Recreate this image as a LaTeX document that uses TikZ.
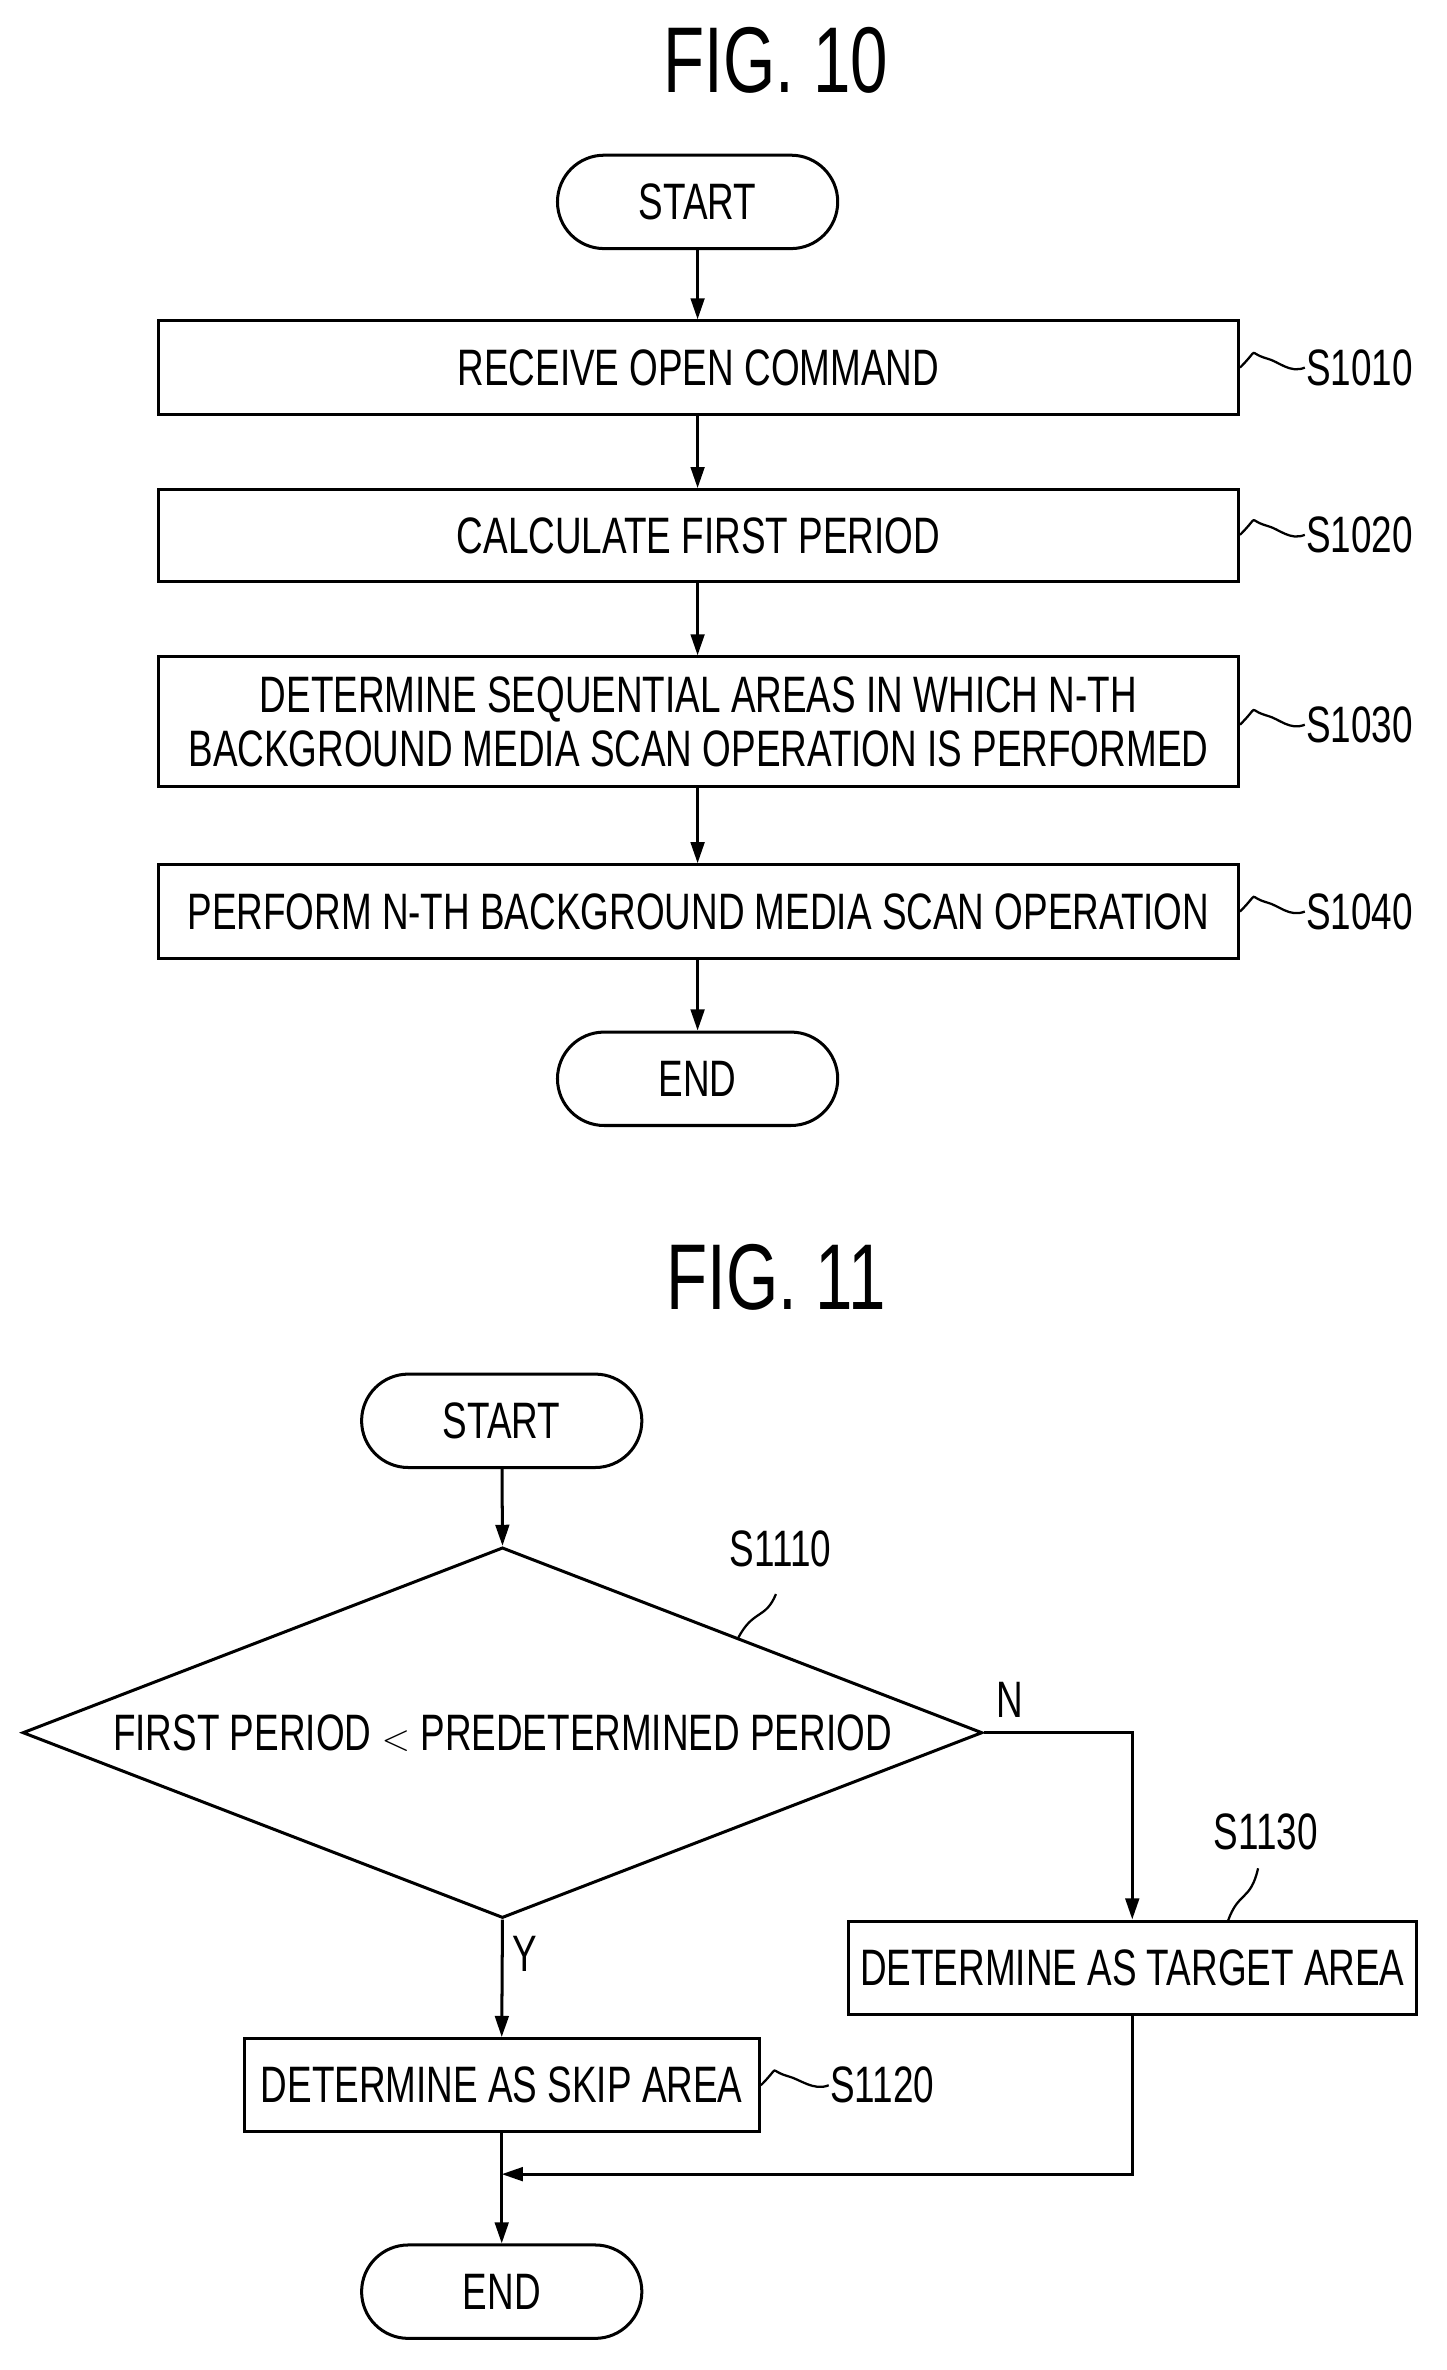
\documentclass[tikz,border=0pt]{standalone}
\usepackage{fontspec}
\setmainfont[FakeStretch=0.72]{Liberation Sans}
\usetikzlibrary{shapes.geometric,shapes.misc,arrows.meta}
\tikzset{every picture/.style={line width=2pt}}
\tikzset{
  box/.style={draw,rectangle,inner sep=0pt,font=\fontsize{34}{36}\selectfont,align=center},
  term/.style={draw,rounded rectangle,minimum width=186pt,minimum height=62pt,inner sep=0pt,font=\fontsize{34}{36}\selectfont},
  lbl/.style={font=\fontsize{34}{36}\selectfont,inner sep=0pt},
  flow/.style={-{Triangle[length=14pt,width=9pt]}}
}
\begin{document}
\begin{tikzpicture}[x=1pt,y=1pt,yscale=-1]
\useasboundingbox (0,0) rectangle (960,1573);

% FIG. 10
\node[lbl,font=\fontsize{62}{64}\selectfont] (fig10) at (515,40) {FIG. 10};
\node[term] (start1) at (463,134) {START};
\node[box,minimum width=717pt,minimum height=62pt] (s1010) at (463.5,244) {RECEIVE OPEN COMMAND};
\node[box,minimum width=717pt,minimum height=61pt] (s1020) at (463.5,355.5) {CALCULATE FIRST PERIOD};
\node[box,minimum width=717pt,minimum height=86pt] (s1030) at (463.5,479) {DETERMINE SEQUENTIAL AREAS IN WHICH N-TH\\BACKGROUND MEDIA SCAN OPERATION IS PERFORMED};
\node[box,minimum width=717pt,minimum height=62pt] (s1040) at (463.5,605) {PERFORM N-TH BACKGROUND MEDIA SCAN OPERATION};
\node[term] (end1) at (463,716) {END};

\draw[flow] (start1) -- (start1 |- s1010.north);
\draw[flow] (start1 |- s1010.south) -- (start1 |- s1020.north);
\draw[flow] (start1 |- s1020.south) -- (start1 |- s1030.north);
\draw[flow] (start1 |- s1030.south) -- (start1 |- s1040.north);
\draw[flow] (start1 |- s1040.south) -- (end1);

% step labels
\node[lbl,anchor=west] (l1010) at (866,244) {S1010};
\node[lbl,anchor=west] (l1020) at (866,355) {S1020};
\node[lbl,anchor=west] (l1030) at (866,481) {S1030};
\node[lbl,anchor=west] (l1040) at (866,605) {S1040};
\foreach \n/\yy in {1010/244,1020/355,1030/481,1040/605}{
  \draw[line width=1.5pt] (s\n.east |- 0,\yy) .. controls ++(14,-14) and ++(-14,-4) .. ++(18,-6) .. controls ++(8,2) and ++(-10,4) .. (l\n.west);
}

% FIG. 11
\node[lbl,font=\fontsize{62}{64}\selectfont] (fig11) at (515,848) {FIG. 11};
\node[term] (start2) at (333,943) {START};
\node[draw,diamond,aspect=2.59,minimum width=637pt,minimum height=246pt,inner sep=0pt,font=\fontsize{34}{36}\selectfont] (s1110) at (333.5,1150) {FIRST PERIOD $<$ PREDETERMINED PERIOD};
\node[box,minimum width=377pt,minimum height=62pt] (s1130) at (751.5,1306) {DETERMINE AS TARGET AREA};
\node[box,minimum width=342pt,minimum height=62pt] (s1120) at (333,1384) {DETERMINE AS SKIP AREA};
\node[term] (end2) at (333,1521) {END};
\coordinate (merge) at (333,1443);

\draw[flow] (start2) -- (s1110.north);
\draw[flow] (s1110.east) -| (s1130.north);
\draw[flow] (s1110.south) -- (s1120.north);
\draw (s1120.south) -- (merge);
\draw[flow] (merge) -- (end2);
\draw[flow] (s1130.south) |- (merge);

\node[lbl] (nlab) at (670,1128) {N};
\node[lbl] (ylab) at (348,1297) {Y};

\node[lbl] (l1110) at (518,1028) {S1110};
\node[lbl] (l1130) at (840,1216) {S1130};
\node[lbl,anchor=west] (l1120) at (550,1384) {S1120};
\draw[line width=1.5pt] (490,1087) .. controls (500,1068) and (508,1075) .. (515,1058);
\draw[line width=1.5pt] (815,1275) .. controls (822,1255) and (830,1262) .. (835,1240);
\draw[line width=1.5pt] (s1120.east) .. controls ++(14,-14) and ++(-14,-4) .. ++(18,-6) .. controls ++(8,2) and ++(-10,4) .. (l1120.west);
\end{tikzpicture}
\end{document}
